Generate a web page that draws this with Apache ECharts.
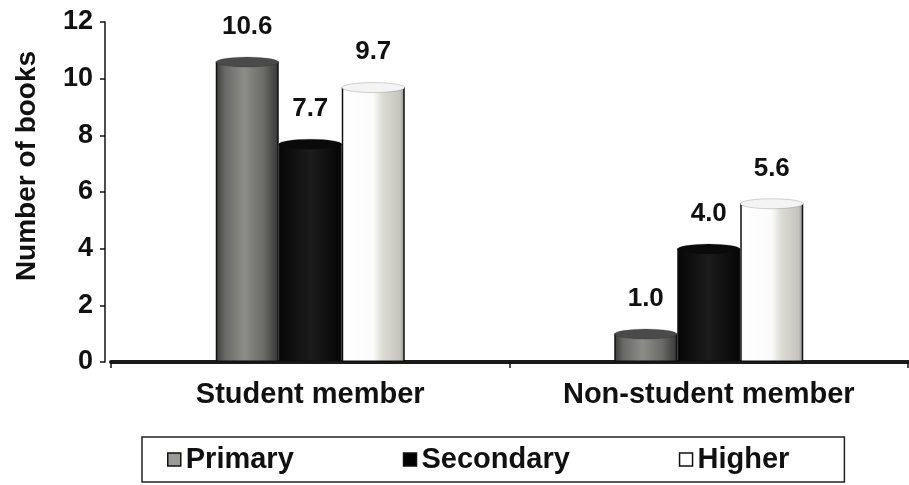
<!DOCTYPE html>
<html>
<head>
<meta charset="utf-8">
<script src="https://cdn.jsdelivr.net/npm/echarts@6/dist/echarts.min.js"></script>
<style>
  html, body { margin: 0; padding: 0; background: #fff; }
  #chart { width: 909px; height: 485px; }
</style>
</head>
<body>
<div id="chart"></div>
<script>
// values
const categories = ["Student member", "Non-student member"]
const levels = ["Primary", "Secondary", "Higher"]
const primary = [10.6, 1.0]
const secondary = [7.7, 4.0]
const higher = [9.7, 5.6]
const yTicks = [0, 2, 4, 6, 8, 10, 12]

const FONT = "'Liberation Sans', Arial, sans-serif"

function grad(stops) {
    return new echarts.graphic.LinearGradient(0, 0, 1, 0,
        stops.map(s => ({offset: s[0], color: s[1]})))
}

// body and top cap of each cylinder
const looks = {
    Primary: {
        body: grad([[0, '#3a3a3a'], [0.15, '#6a6a68'], [0.45, '#8c8c88'], [0.75, '#6c6c68'], [1, '#363636']]),
        cap: '#4a4a4a', legend: '#9a9a96'
    },
    Secondary: {
        body: grad([[0, '#060606'], [0.5, '#1c1c1c'], [1, '#050505']]),
        cap: '#0a0a0a', legend: '#000'
    },
    Higher: {
        body: grad([[0, '#ffffff'], [0.5, '#fbfbfb'], [0.65, '#dcdcd4'], [0.93, '#c4c4bc'], [1, '#8a8a8a']]),
        cap: '#f4f4f4', legend: '#fff'
    }
}

const values = {Primary: primary, Secondary: secondary, Higher: higher}
const BW = 63

let series = []
for (const name of levels) {
    series.push({
        name: name,
        type: 'bar',
        data: values[name],
        barWidth: BW,
        barGap: '0%',
        itemStyle: {color: looks[name].body, borderColor: '#111', borderWidth: 1.5},
        label: {
            show: true,
            position: 'top',
            distance: 22,
            formatter: p => p.value.toFixed(1),
            fontFamily: FONT,
            fontWeight: 'bold',
            fontSize: 26,
            color: '#111'
        },
        z: 2
    })
}
for (const name of levels) {
    series.push({
        name: name,
        type: 'pictorialBar',
        data: values[name],
        barWidth: BW,
        barGap: '0%',
        symbol: 'circle',
        symbolSize: [BW, 10],
        symbolPosition: 'end',
        symbolOffset: [0, '-50%'],
        itemStyle: {color: looks[name].cap, borderColor: '#111', borderWidth: 2},
        z: 3
    })
}

const chart = echarts.init(document.getElementById('chart'), null, {renderer: 'canvas'})

const option = {
    animation: false,
    backgroundColor: '#fff',
    // the floor starts a little right of the value axis, as in the 3D original
    grid: {left: 111, right: 1, top: 22, bottom: 123},
    legend: {
        data: levels.map(n => ({
            name: n,
            icon: 'rect',
            itemStyle: {color: looks[n].legend, borderColor: '#111', borderWidth: 1.5}
        })),
        left: 142,
        top: 437,
        padding: [8, 55, 8, 25],
        itemGap: 109,
        itemWidth: 13,
        itemHeight: 13,
        borderColor: '#222',
        borderWidth: 1.5,
        selectedMode: false,
        textStyle: {fontFamily: FONT, fontWeight: 'bold', fontSize: 29, color: '#111'}
    },
    xAxis: {
        type: 'category',
        data: categories,
        axisLine: {lineStyle: {color: '#1a1a1a', width: 4}},
        axisTick: {show: true, length: 6, lineStyle: {color: '#111', width: 1.5}},
        axisLabel: {
            margin: 18,
            fontFamily: FONT,
            fontWeight: 'bold',
            fontSize: 29,
            color: '#111'
        }
    },
    yAxis: {
        type: 'value',
        offset: 6,
        min: yTicks[0],
        max: yTicks[yTicks.length - 1],
        interval: 2,
        name: 'Number of books',
        nameLocation: 'middle',
        nameGap: 64,
        nameTextStyle: {
            fontFamily: FONT,
            fontWeight: 'bold',
            fontSize: 28,
            color: '#111',
            padding: [0, 0, 0, 52]
        },
        axisLine: {show: true, lineStyle: {color: '#111', width: 1.5}},
        axisTick: {show: true, inside: false, length: 5, lineStyle: {color: '#111', width: 1.5}},
        splitLine: {show: false},
        axisLabel: {
            margin: 12,
            fontFamily: FONT,
            fontWeight: 'bold',
            fontSize: 27,
            color: '#111'
        }
    },
    series: series
}

chart.setOption(option)
</script>
</body>
</html>
